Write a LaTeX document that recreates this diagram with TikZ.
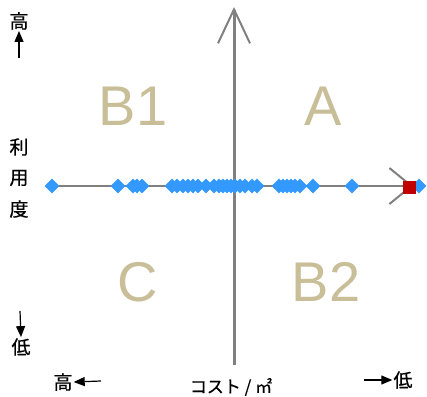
\documentclass[tikz,border=0pt]{standalone}
\usepackage{fontspec}
\setmainfont{Liberation Sans}
\newfontfamily\jpfont[FakeBold=0.6]{Noto Sans CJK JP}
\usetikzlibrary{arrows.meta,shapes.geometric}
\definecolor{axisgray}{RGB}{128,128,128}
\definecolor{quadtan}{RGB}{200,190,152}
\definecolor{pointblue}{RGB}{51,153,255}
\definecolor{markred}{RGB}{192,0,0}
\begin{document}
\begin{tikzpicture}
[
    x=1pt, y=-1pt,
    axis/.style={draw=axisgray},
    quad/.style={text=quadtan, font=\fontsize{56}{60}\selectfont, inner sep=0pt},
    jplabel/.style={font=\jpfont\fontsize{19}{22}\selectfont, inner sep=1pt},
    point/.style={diamond, fill=pointblue, inner sep=0pt, minimum size=15pt},
    pointer/.style={-{Triangle[length=11pt,width=9pt]}, line width=1.2pt},
]
\useasboundingbox (0,0) rectangle (427,396);
\coordinate (ytop) at (234,7);
\coordinate (ybottom) at (234,365);
\coordinate (xleft) at (52,186);
\coordinate (xright) at (413,186);
\draw[axis, line width=3pt, -{Straight Barb[length=34pt,width=32pt,line width=2pt]}] (ybottom) -- (ytop);
\draw[axis, line width=2pt, -{Straight Barb[length=22pt,width=36pt,line width=2pt]}] (xleft) -- (xright);

\node[quad] (b1) at (133,106) {B1};
\node[quad] (a) at (323,106) {A};
\node[quad] (c) at (138,282) {C};
\node[quad] (b2) at (326,282) {B2};

\foreach \px [count=\i] in {52,118,133,137,142,172,177,183,188,193,198,206,214,219,223,227,231,235,240,245,252,257,279,283,287,291,295,300,313,352,419}
    \node[point] (p\i) at (\px,186) {};
\node[fill=markred, inner sep=0pt, minimum size=13pt] (mark) at (409.5,187) {};

\node[jplabel] (usehigh) at (19,21) {高};
\coordinate (usehighfoot) at (19,58);
\draw[pointer] (usehighfoot) -- (usehigh.south);
\node[jplabel] (use1) at (19,147) {利};
\node[jplabel] (use2) at (19,178) {用};
\node[jplabel] (use3) at (19,209) {度};
\node[jplabel] (uselow) at (21,347) {低};
\coordinate (uselowfoot) at (20,311);
\draw[pointer] (uselowfoot) -- (uselow.north);

\node[jplabel] (costhigh) at (63,382) {高};
\coordinate (costhighfoot) at (101,381);
\draw[pointer] (costhighfoot) -- (costhigh.east);
\node[jplabel] (costlow) at (403,380) {低};
\coordinate (costlowfoot) at (364,380);
\draw[pointer] (costlowfoot) -- (costlow.west);
\node[jplabel, font=\jpfont\fontsize{17}{20}\selectfont] (cost) at (231,387) {コスト / ㎡};
\end{tikzpicture}
\end{document}
